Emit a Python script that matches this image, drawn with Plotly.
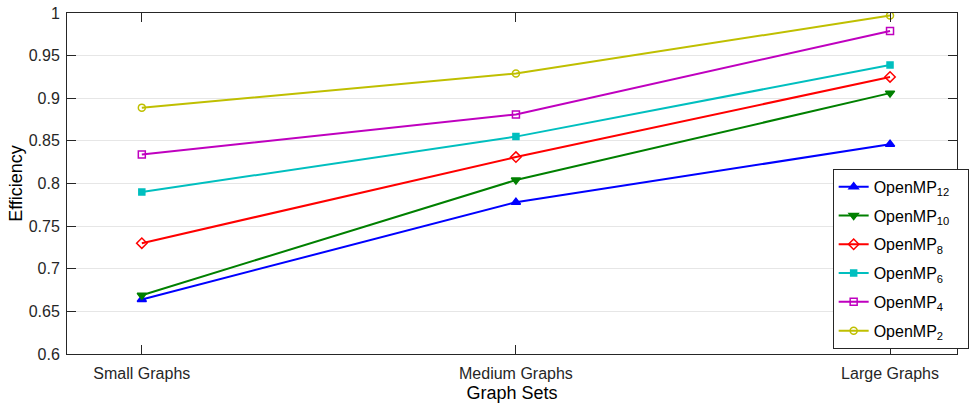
import plotly.graph_objects as go

categories = ["Small Graphs", "Medium Graphs", "Large Graphs"]
x_pos = [1, 2, 3]
series_names = ["OpenMP<sub>12</sub>", "OpenMP<sub>10</sub>", "OpenMP<sub>8</sub>",
                "OpenMP<sub>6</sub>", "OpenMP<sub>4</sub>", "OpenMP<sub>2</sub>"]
omp12 = [0.664, 0.778, 0.846]
omp10 = [0.669, 0.804, 0.906]
omp8 = [0.730, 0.831, 0.925]
omp6 = [0.790, 0.855, 0.939]
omp4 = [0.834, 0.881, 0.979]
omp2 = [0.889, 0.929, 0.997]
y_ticks = [0.6, 0.65, 0.7, 0.75, 0.8, 0.85, 0.9, 0.95, 1]
y_tick_text = ["0.6", "0.65", "0.7", "0.75", "0.8", "0.85", "0.9", "0.95", "1"]

values = [omp12, omp10, omp8, omp6, omp4, omp2]
colors = ["#0000FF", "#008000", "#FF0000", "#00BFBF", "#BF00BF", "#BFBF00"]
symbols = ["triangle-up", "triangle-down", "diamond-open", "square", "square-open", "circle-open"]
sizes = [8, 8, 8, 6, 7, 7]

fig = go.Figure()
for i, (name, v, c, s, sz) in enumerate(zip(series_names, values, colors, symbols, sizes)):
    fig.add_trace(go.Scatter(
        x=x_pos, y=v, name=name + "&nbsp;&nbsp;&nbsp;", mode="lines+markers",
        legendgroup=f"g{i}",
        line=dict(color=c, width=2),
        marker=dict(symbol=s, size=sz, color=c, line=dict(color=c, width=1.5)),
    ))

axis_color = "#262626"
fig.update_layout(
    width=969, height=404,
    margin=dict(l=67, r=0, t=13, b=50),
    paper_bgcolor="white", plot_bgcolor="white",
    font=dict(family="Liberation Sans, Arial, sans-serif", size=16, color=axis_color),
    showlegend=True, hovermode=False,
    legend=dict(
        x=0.8603, y=0.5433, xanchor="left", yanchor="top",
        bordercolor=axis_color, borderwidth=1, bgcolor="white",
        font=dict(size=16, color="black"), traceorder="grouped",
        itemwidth=30, tracegroupgap=5,
    ),
    xaxis=dict(
        range=[0.8, 3.179], tickvals=x_pos, ticktext=categories,
        showgrid=False, zeroline=False, automargin=False,
        showline=True, linecolor=axis_color, linewidth=1, mirror="ticks",
        ticks="inside", ticklen=9, tickcolor=axis_color, ticklabelstandoff=5,
        tickfont=dict(size=16, color=axis_color),
        title=dict(text="Graph Sets", font=dict(size=18, color="black"), standoff=5),
    ),
    yaxis=dict(
        range=[0.6, 1], tickvals=y_ticks, ticktext=y_tick_text,
        showgrid=True, gridcolor="#e6e6e6", gridwidth=1, zeroline=False, automargin=False,
        showline=True, linecolor=axis_color, linewidth=1, mirror="ticks",
        ticks="inside", ticklen=9, tickcolor=axis_color, ticklabelstandoff=3,
        tickfont=dict(size=16, color=axis_color),
        title=dict(text="Efficiency", font=dict(size=18, color="black"), standoff=1),
    ),
)

fig.write_html("out.html", config={"displayModeBar": False},
               post_script="document.body.style.margin='0px';document.body.style.overflow='hidden';")
